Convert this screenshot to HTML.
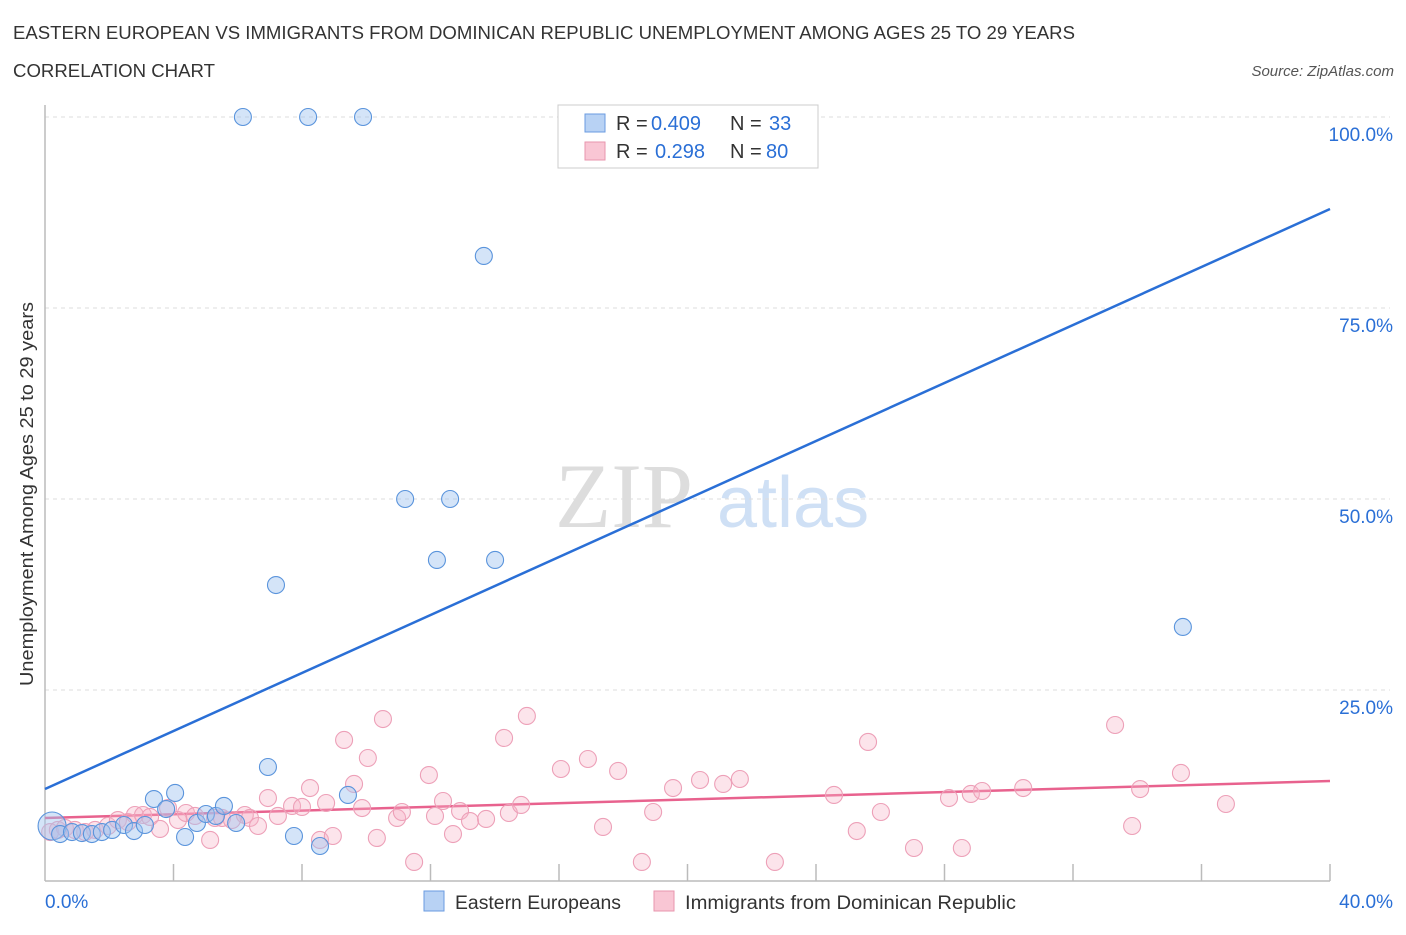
<!DOCTYPE html>
<html><head><meta charset="utf-8">
<style>
body{margin:0;background:#fff;font-family:"Liberation Sans",sans-serif;}
svg text{font-family:"Liberation Sans",sans-serif;}
</style></head>
<body>
<svg id="chart" width="1406" height="930" viewBox="0 0 1406 930" xmlns="http://www.w3.org/2000/svg">
<text x="13" y="39" font-size="18" fill="#333" textLength="1062" lengthAdjust="spacingAndGlyphs">EASTERN EUROPEAN VS IMMIGRANTS FROM DOMINICAN REPUBLIC UNEMPLOYMENT AMONG AGES 25 TO 29 YEARS</text>
<text x="13" y="77" font-size="18" fill="#333" textLength="202" lengthAdjust="spacingAndGlyphs">CORRELATION CHART</text>
<text x="1394" y="76" font-size="15" fill="#555" font-style="italic" text-anchor="end">Source: ZipAtlas.com</text>
<text x="555" y="527" font-size="92" fill="#ddd" font-family="Liberation Serif" style="font-family:'Liberation Serif',serif">ZIP</text>
<text x="717" y="527" font-size="72" fill="#cfe0f5">atlas</text>
<g id="grid"></g>
<g id="axes"></g>
<text transform="translate(33,494) rotate(-90)" font-size="18" fill="#333" text-anchor="middle" textLength="384" lengthAdjust="spacingAndGlyphs">Unemployment Among Ages 25 to 29 years</text>
<g id="trend"></g>
<g id="pts"></g>
<g>
<rect x="558" y="105" width="260" height="63" fill="#fff" stroke="#ccc"/>
<rect x="585" y="114" width="20" height="18" fill="#b8d2f4" stroke="#6a9be0"/>
<text x="616" y="130" font-size="20" fill="#333">R =</text>
<text x="651" y="130" font-size="20" fill="#2a6fd6">0.409</text>
<text x="730" y="130" font-size="20" fill="#333">N =</text>
<text x="769" y="130" font-size="20" fill="#2a6fd6">33</text>
<rect x="585" y="142" width="20" height="18" fill="#f9c6d4" stroke="#e896ae"/>
<text x="616" y="158" font-size="20" fill="#333">R =</text>
<text x="655" y="158" font-size="20" fill="#2a6fd6">0.298</text>
<text x="730" y="158" font-size="20" fill="#333">N =</text>
<text x="766" y="158" font-size="20" fill="#2a6fd6">80</text>
</g>
<g>
<rect x="424" y="891" width="20" height="20" fill="#b8d2f4" stroke="#6a9be0"/>
<text x="455" y="909" font-size="19" fill="#333" textLength="166" lengthAdjust="spacingAndGlyphs">Eastern Europeans</text>
<rect x="654" y="891" width="20" height="20" fill="#f9c6d4" stroke="#e896ae"/>
<text x="685" y="909" font-size="19" fill="#333" textLength="331" lengthAdjust="spacingAndGlyphs">Immigrants from Dominican Republic</text>
</g>
</svg>
<script>
const xTicks=[0,4,8,12,16,20,24,28,32,36,40];
const yTicks=[25,50,75,100];
const yTickLabels=["25.0%","50.0%","75.0%","100.0%"];
const blueX=[0.22,0.47,0.84,1.15,1.46,1.77,2.09,2.46,2.77,3.11,3.39,3.77,4.05,4.36,4.73,5.01,5.32,5.57,5.95,6.94,7.19,7.75,8.56,9.43,11.21,12.2,12.61,14.01,13.66,6.16,8.19,9.9,35.42];
const blueY=[7.20,6.15,6.41,6.28,6.15,6.41,6.68,7.33,6.54,7.33,10.73,9.42,11.52,5.76,7.59,8.77,8.51,9.82,7.59,14.92,38.74,5.89,4.58,11.26,50.0,42.02,50.0,42.02,81.81,100,100,100,33.25];
const pinkX=[0.16,0.40,0.62,0.93,1.25,1.56,1.96,2.27,2.58,2.80,3.05,3.27,3.58,3.83,4.14,4.39,4.67,5.14,5.29,5.51,5.82,6.22,6.38,6.63,6.94,7.25,7.69,8.0,8.25,8.56,8.75,8.96,9.31,9.62,9.87,10.05,10.33,10.52,10.96,11.11,11.49,11.95,12.14,12.39,12.7,12.92,13.23,13.73,14.29,14.44,14.82,15.0,16.06,16.9,17.37,17.84,18.58,18.93,19.55,20.39,21.11,21.63,22.72,24.56,25.27,25.62,26.02,27.05,28.14,28.82,29.17,30.45,33.31,33.84,34.09,35.36,36.76,28.54];
const pinkY=[6.41,6.68,6.94,6.68,6.41,6.68,7.20,7.98,7.72,8.64,8.64,8.38,6.81,9.55,7.98,8.90,8.51,5.37,8.25,8.25,7.98,8.64,8.25,7.20,10.86,8.51,9.82,9.69,12.17,5.37,10.21,5.89,18.46,12.7,9.55,16.1,5.63,21.2,8.25,9.03,2.49,13.87,8.51,10.47,6.15,9.16,7.85,8.12,18.72,8.9,9.95,21.6,14.66,15.97,7.07,14.4,2.49,9.03,12.17,13.22,12.7,13.35,2.49,11.26,6.54,18.2,9.03,4.32,10.86,11.39,11.78,12.17,20.42,7.2,12.04,14.14,10.08,4.32];
const blueTrend=[12.04,87.96];
const pinkTrend=[8.25,13.09];
const NS="http://www.w3.org/2000/svg";
const X0=45,X1=1330,Y0=881,Y100=117;
function sx(v){return X0+(v/40)*(X1-X0);}
function sy(v){return Y0-(v/100)*(Y0-Y100);}
function mk(tag,attrs,parent){const e=document.createElementNS(NS,tag);for(const k in attrs)e.setAttribute(k,attrs[k]);parent.appendChild(e);return e;}
const grid=document.getElementById('grid'),axes=document.getElementById('axes');
yTicks.forEach((t,i)=>{
 const l=mk('line',{x1:X0,x2:1390,y1:sy(t),y2:sy(t),stroke:'#ddd','stroke-dasharray':'4,4'},grid);
 
 
 const tx=mk('text',{x:1393,y:sy(t)+24,'font-size':19,fill:'#2a6fd6','text-anchor':'end'},axes);
 tx.textContent=yTickLabels[i];
 
 
});
const ax=mk('line',{x1:X0,x2:X0,y1:105,y2:Y0,stroke:'#bbb','stroke-width':1.5},axes);


const bx=mk('line',{x1:X0,x2:X1,y1:Y0,y2:Y0,stroke:'#bbb','stroke-width':1.5},axes);


xTicks.forEach(t=>{if(t===0)return;
 const l=mk('line',{x1:sx(t),x2:sx(t),y1:864,y2:Y0,stroke:'#bbb','stroke-width':1.5},axes);
 
 
});
const xl0=mk('text',{x:45,y:908,'font-size':19,fill:'#2a6fd6'},axes);xl0.textContent='0.0%';


const xl1=mk('text',{x:1393,y:908,'font-size':19,fill:'#2a6fd6','text-anchor':'end'},axes);xl1.textContent='40.0%';


const pts=document.getElementById('pts');
pinkX.forEach((x,i)=>{const c=mk('circle',{cx:sx(x),cy:sy(pinkY[i]),r:8.5,fill:'rgba(246,178,198,0.35)',stroke:'#eda0b8','stroke-width':1.1},pts);
 
 });
blueX.forEach((x,i)=>{const c=mk('circle',{cx:sx(x),cy:sy(blueY[i]),r:i===0?14:8.5,fill:'rgba(160,195,240,0.45)',stroke:'#5a94dc','stroke-width':1.1},pts);
 
 });
const tr=document.getElementById('trend');
const bl=mk('line',{x1:sx(0),y1:sy(blueTrend[0]),x2:sx(40),y2:sy(blueTrend[1]),stroke:'#2a6fd6','stroke-width':2.5},tr);


const pl=mk('line',{x1:sx(0),y1:sy(pinkTrend[0]),x2:sx(40),y2:sy(pinkTrend[1]),stroke:'#e8628e','stroke-width':2.5},tr);


</script>
</body></html>
